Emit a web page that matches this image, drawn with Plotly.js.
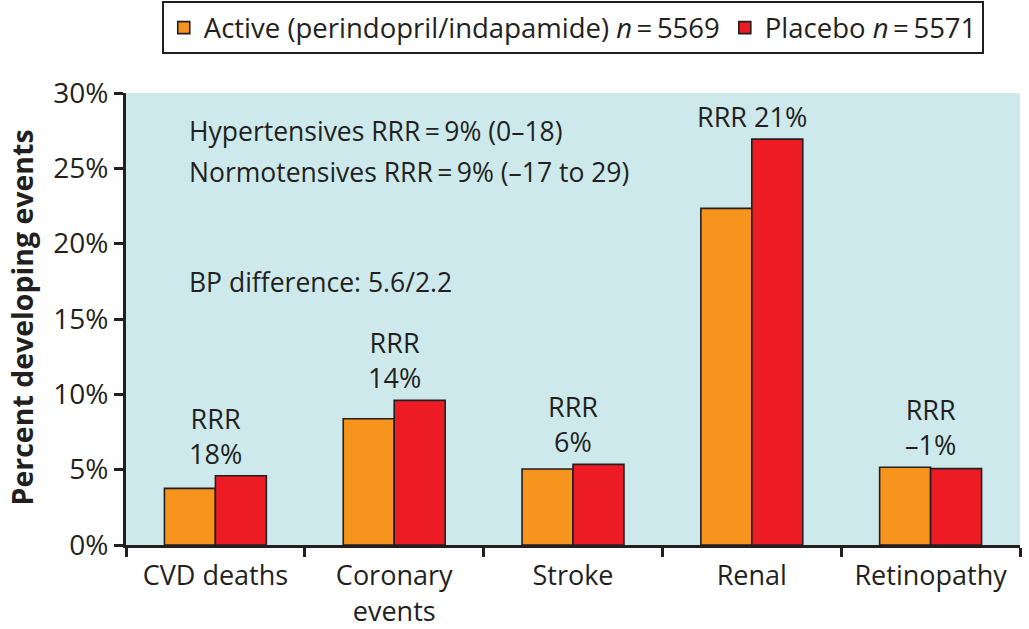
<!DOCTYPE html>
<html>
<head>
<meta charset="utf-8">
<script src="https://cdn.plot.ly/plotly-3.0.1.min.js"></script>
<style>html,body{margin:0;padding:0;background:#fff;}#chart{width:1029px;height:629px;}</style>
</head>
<body>
<div id="chart"></div>
<script>
const categories = ["CVD deaths", "Coronary<br>events", "Stroke", "Renal", "Retinopathy"];
const activeValues = [3.76, 8.38, 5.04, 22.34, 5.16];
const placeboValues = [4.6, 9.6, 5.35, 26.94, 5.07];
const activeName = "Active (perindopril/indapamide) <i>n</i>\u2009=\u20095569";
const placeboName = "Placebo <i>n</i>\u2009=\u20095571";
const rrrLabels = ["RRR<br>18%", "RRR<br>14%", "RRR<br>6%", "RRR 21%", "RRR<br>–1%"];
const yTickVals = [0, 5, 10, 15, 20, 25, 30];
const yTickText = yTickVals.map(v => v + "%");
const notes = ["Hypertensives RRR\u2009=\u20099% (0–18)", "Normotensives RRR\u2009=\u20099% (–17 to 29)", "BP difference: 5.6/2.2"];
const yTitle = "Percent developing events";

const FONT = "Open Sans, sans-serif";
const INK = "#231f20";
const outline = {color: INK, width: 1.6};

const traces = [
  {type: "bar", name: activeName, x: categories, y: activeValues,
   marker: {color: "#f7941d", line: outline}},
  {type: "bar", name: placeboName, x: categories, y: placeboValues,
   marker: {color: "#ed1c24", line: outline}}
];

const annotations = [];
categories.forEach((c, i) => {
  const top = Math.max(activeValues[i], placeboValues[i]);
  annotations.push({x: c, y: top, xref: "x", yref: "y", text: rrrLabels[i],
    showarrow: false, yanchor: "bottom", yshift: 2,
    font: {family: FONT, size: 27, color: INK}});
});
const noteY = [0.916, 0.825, 0.582];
notes.forEach((t, i) => {
  annotations.push({x: 0.068, y: noteY[i], xref: "paper", yref: "paper", text: t,
    showarrow: false, xanchor: "left", yanchor: "middle",
    font: {family: FONT, size: 26.5, color: INK}});
});
annotations.push({x: -0.116, y: 0.504, xref: "paper", yref: "paper", text: "<b>" + yTitle + "</b>",
  textangle: -90, showarrow: false, xanchor: "center", yanchor: "middle",
  font: {family: FONT, size: 28.5, color: INK}});

const layout = {
  width: 1029, height: 629,
  margin: {l: 126, r: 9, t: 93, b: 84, autoexpand: false},
  paper_bgcolor: "#ffffff",
  plot_bgcolor: "#cde9ec",
  barmode: "group",
  bargap: 0.43,
  bargroupgap: 0,
  font: {family: FONT, size: 24, color: INK},
  showlegend: true,
  legend: {orientation: "h", x: 0.04, xanchor: "left", y: 1.203, yanchor: "top",
    bordercolor: INK, borderwidth: 2, bgcolor: "#ffffff",
    font: {family: FONT, size: 27.5, color: INK}, itemwidth: 30, traceorder: "normal"},
  xaxis: {type: "category", tickson: "boundaries", ticks: "outside", ticklen: 9, tickwidth: 3,
    tickcolor: INK, showline: true, linecolor: INK, linewidth: 3, ticklabelstandoff: 5,
    showgrid: false, zeroline: false, tickfont: {family: FONT, size: 27, color: INK}},
  yaxis: {range: [0, 30], tickmode: "array", tickvals: yTickVals, ticktext: yTickText,
    ticks: "outside", ticklen: 9, tickwidth: 3,
    tickcolor: INK, showline: true, linecolor: INK, linewidth: 3,
    showgrid: false, zeroline: false, tickfont: {family: FONT, size: 28, color: INK}},
  annotations: annotations
};

Plotly.newPlot("chart", traces, layout, {displayModeBar: false, staticPlot: true});
</script>
</body>
</html>
